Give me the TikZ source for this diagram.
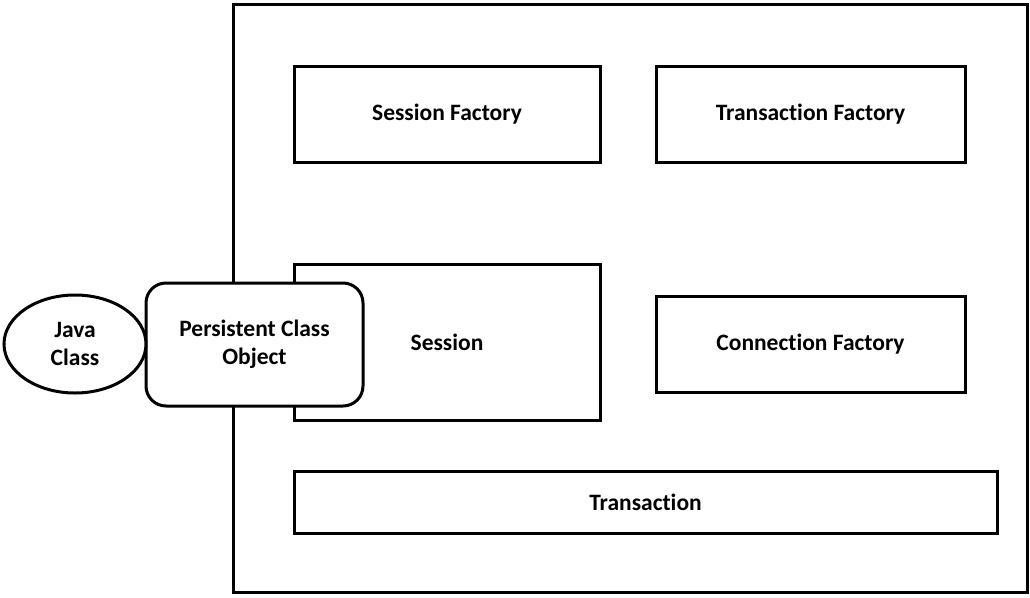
\documentclass[tikz,border=0pt]{standalone}
\usepackage{fontspec}
\setmainfont[Ligatures={NoCommon}]{Carlito}
\usetikzlibrary{shapes.geometric}
\begin{document}
\begin{tikzpicture}[x=1pt,y=-1pt,
  box/.style={draw,line width=3pt,fill=white},
  lbl/.style={font=\bfseries\fontsize{23.5}{28}\selectfont,align=center}]
\useasboundingbox (0,0) rectangle (1030,597);
\draw[line width=3pt] (233,4) rectangle (1027,592);
\node[box,minimum width=306pt,minimum height=96pt,lbl] (sf) at (447,114) {Session Factory};
\node[box,minimum width=309pt,minimum height=96pt,lbl] (tf) at (810.5,114) {Transaction Factory};
\node[box,minimum width=306pt,minimum height=156pt,lbl] (s) at (447,342) {Session};
\node[box,minimum width=309pt,minimum height=96pt,lbl] (cf) at (810.5,344) {Connection Factory};
\node[box,minimum width=703pt,minimum height=62pt,lbl] (t) at (645.5,502) {Transaction};
\node[box,rounded corners=20pt,minimum width=217pt,minimum height=123pt,lbl] (pco) at (254.5,344.5) {Persistent Class\\Object};
\node[box,ellipse,inner sep=0pt,minimum width=142pt,minimum height=98pt,lbl] (jc) at (75,344) {Java\\Class};
\end{tikzpicture}
\end{document}
